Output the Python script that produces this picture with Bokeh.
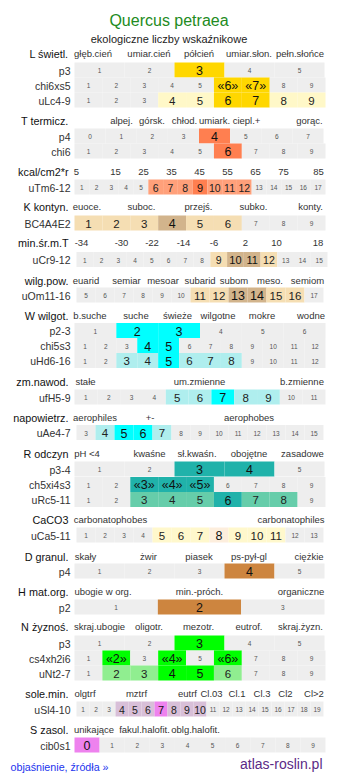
from bokeh.plotting import figure
from bokeh.models import Range1d, ColumnDataSource
from bokeh.core.properties import value
from bokeh.embed import file_html
from bokeh.resources import INLINE

# ---------------- data ----------------
title = "Quercus petraea"
subtitle = "ekologiczne liczby wskaźnikowe"
footer_link = "objaśnienie, źródła »"
footer_site = "atlas-roslin.pl"

group_names = ["L świetl.", "T termicz.", "kcal/cm2*r", "K kontyn.", "min.śr.m.T",
               "wilg.pow.", "W wilgot.", "zm.nawod.", "napowietrz.", "R odczyn",
               "CaCO3", "D granul.", "H mat.org.", "N żyznoś.", "sole.min.", "S zasol."]
group_words = [
    ["głęb.cień", "umiar.cień", "półcień", "umiar.słon.", "pełn.słońce"],
    ["alpej.", "górsk.", "chłod.", "umiark.", "ciepl.+", "gorąc."],
    ["5", "15", "25", "35", "45", "55", "65", "75", "85"],
    ["euoce.", "suboc.", "przejś.", "subko.", "konty."],
    ["-34", "-30", "-22", "-14", "-6", "2", "10", "18"],
    ["euarid", "semiar", "mesoar", "subarid", "subom", "meso.", "semiom"],
    ["b.suche", "suche", "świeże", "wilgotne", "mokre", "wodne"],
    ["stałe", "um.zmienne", "b.zmienne"],
    ["aerophiles", "+-", "aerophobes"],
    ["pH <4", "kwaśne", "sł.kwaśn.", "obojętne", "zasadowe"],
    ["carbonatophobes", "carbonatophiles"],
    ["skały", "żwir", "piasek", "ps-pył-gl", "ciężkie"],
    ["ubogie w org.", "min.-próch.", "organiczne"],
    ["skraj.ubogie", "oligotr.", "mezotr.", "eutrof.", "skraj.żyzn."],
    ["olgtrf", "mztrf", "eutrf", "Cl.03", "Cl.1", "Cl.3", "Cl2", "Cl>2"],
    ["unikające", "fakul.halofit.", "oblg.halofit."],
]

row_group = [0, 0, 0, 1, 1, 2, 3, 4, 5, 6, 6, 6, 7, 8, 9, 9, 9, 10, 11, 12, 13, 13, 13, 14, 15]
row_label = ["p3", "chi6xs5", "uLc4-9", "p4", "chi6", "uTm6-12", "BC4A4E2", "uCr9-12",
             "uOm11-16", "p2-3", "chi5s3", "uHd6-16", "ufH5-9", "uAe4-7", "p3-4",
             "ch5xi4s3", "uRc5-11", "uCa5-11", "p4", "p2", "p3", "cs4xh2i6", "uNt2-7",
             "uSl4-10", "cib0s1"]
row_first = [1, 1, 1, 0, 1, 1, 1, 1, 5, 1, 1, 1, 1, 3, 1, 1, 1, 1, 1, 1, 1, 1, 1, 1, 0]
row_last = [5, 9, 9, 7, 9, 17, 9, 15, 17, 6, 12, 12, 11, 15, 5, 9, 9, 13, 5, 3, 5, 9, 9, 19, 9]
row_strong = [[3], [6, 7], [6, 7], [4], [6], [9], [4], [10, 11], [13, 14], [2, 3], [4, 5],
              [5], [7], [5, 6], [3, 4], [3, 4, 5], [6], [8], [4], [2], [3], [2, 4, 6],
              [4, 5], [7], [0]]
row_light = [[], [], [4, 5, 8, 9], [], [], [6, 7, 8, 10, 11, 12], [1, 2, 3, 5, 6], [9, 12],
             [11, 12, 15, 16], [], [], [3, 4, 6, 7, 8], [5, 6, 8, 9], [4, 7], [], [],
             [3, 4, 5, 7, 8], [5, 6, 7, 9, 10, 11], [], [], [], [], [2, 3, 6],
             [4, 5, 6, 8, 9, 10], []]
row_marked = [False, True, False, False, False, False, False, False, False, False, False,
              False, False, False, False, True, False, False, False, False, False, True,
              False, False, False]

# ---------------- layout / style ----------------
W, H = 337, 781
group_y = [53, 120, 171, 206, 242, 280, 315, 381, 417, 453, 519, 556, 591, 626, 693, 729]
group_word_x = [
    [92.5, 148.5, 198.5, 248.5, 299.5],
    [121, 151.5, 184, 214, 246, 309],
    [76, 115, 143, 171, 199, 227, 255, 283, 318],
    [86.5, 141, 198, 253, 310],
    [81, 121, 151.5, 183, 213.5, 245, 276, 317.5],
    [85.5, 126, 162.5, 199.5, 233.5, 269.5, 307],
    [89.5, 135.5, 177, 217.5, 261.5, 310.5],
    [85, 199, 301.5],
    [94.5, 149.5, 248.5],
    [86.5, 149, 196.5, 248.5, 302],
    [110, 290.5],
    [85, 148, 198.5, 248.5, 308.5],
    [102.5, 199, 300.5],
    [99, 148.5, 198, 248.5, 300],
    [84.5, 136, 187, 211, 236.5, 261.5, 285, 313.5],
    [93.5, 144, 195],
]
row_y = [69.5, 84.5, 99.5, 135.5, 150.5, 186.5, 222.5, 259, 294.5, 330, 345, 360, 396.5,
         432, 468.5, 484, 499, 534.5, 570.5, 606.5, 642.5, 657.5, 672.5, 708.5, 744.5]
row_x0 = [74, 74, 74, 74, 74, 74, 74, 76, 76, 74, 74, 74, 74, 76, 74, 74, 74, 76, 74, 74,
          74, 74, 74, 76, 74]
row_x1 = [324, 325, 325, 323, 325, 325, 325, 327, 323, 325, 325, 325, 325, 323, 324, 325,
          325, 323, 324, 324, 324, 325, 325, 323, 325]
ROW_H = 15
GRAY = "#eeeeee"
group_strong = ["#ffd700", "#ff7f50", "#ff7f50", "#d2b48c", "#d2b48c", "#d2b48c",
                "#00ffff", "#00ffff", "#00ffff", "#20b2aa", "#fdeedd", "#cd853f",
                "#cd853f", "#00ff00", "#ee82ee", "#ee82ee"]
group_light = ["#fff8c8", "#ffa07a", "#ffa07a", "#f5deb3", "#f5deb3", "#f5deb3",
               "#afeeee", "#afeeee", "#afeeee", "#66cdaa", "#fff8cc", "#cd853f",
               "#cd853f", "#90ee90", "#d8bfd8", "#d8bfd8"]
FONT = "Liberation Sans"

p = figure(width=W, height=H, x_range=Range1d(0, W), y_range=Range1d(H, 0),
           output_backend="svg", toolbar_location=None, min_border=0,
           x_axis_location=None, y_axis_location=None,
           background_fill_color="white", border_fill_color="white")
p.outline_line_color = None
p.grid.visible = False

# cells
cl, cr, ct, cb, cc = [], [], [], [], []
tx, ty, tt, ts, tc = [], [], [], [], []
for r in range(len(row_label)):
    g = row_group[r]
    vals = list(range(row_first[r], row_last[r] + 1))
    n = len(vals)
    w = (row_x1[r] - row_x0[r]) / n
    narrow = w < 17
    for i, v in enumerate(vals):
        left = row_x0[r] + i * w
        if v in row_strong[r]:
            col, kind = group_strong[g], "s"
        elif v in row_light[r]:
            col, kind = group_light[g], "l"
        else:
            col, kind = GRAY, "n"
        cl.append(left); cr.append(left + w)
        ct.append(row_y[r] - ROW_H / 2); cb.append(row_y[r] + ROW_H / 2)
        cc.append(col)
        tx.append(left + w / 2); ty.append(row_y[r] + 0.5)
        if kind == "s":
            tt.append("«%d»" % v if row_marked[r] else str(v))
            ts.append("11px" if narrow else "12.5px"); tc.append("#111111")
        elif kind == "l":
            tt.append(str(v))
            ts.append("10.5px" if narrow else "11.5px"); tc.append("#222222")
        else:
            tt.append(str(v)); ts.append("6.5px"); tc.append("#555555")

p.quad(left="l", right="r", top="t", bottom="b", fill_color="c", line_color=None,
       source=ColumnDataSource(dict(l=cl, r=cr, t=ct, b=cb, c=cc)))
p.text(x="x", y="y", text="t", text_font_size="s", text_color="c",
       text_align="center", text_baseline="middle", text_font=value(FONT),
       source=ColumnDataSource(dict(x=tx, y=ty, t=tt, s=ts, c=tc)))

# row labels
p.text(x=[70] * len(row_label), y=[y + 0.5 for y in row_y], text=row_label,
       text_font_size="10.5px", text_color="#333333", text_align="right",
       text_baseline="middle", text_font=value(FONT))

# group names and header words
p.text(x=[68] * len(group_names), y=group_y, text=group_names,
       text_font_size="10.8px", text_color="#111111", text_align="right",
       text_baseline="middle", text_font=value(FONT))
hx, hy, ht = [], [], []
for g, words in enumerate(group_words):
    for w_, x_ in zip(words, group_word_x[g]):
        hx.append(x_); hy.append(group_y[g]); ht.append(w_)
p.text(x=hx, y=hy, text=ht, text_font_size="9.5px", text_color="#333333",
       text_align="center", text_baseline="middle", text_font=value(FONT))

# title
p.text(x=[168.5], y=[20], text=[title], text_font_size="16px", text_color="#228b22",
       text_align="center", text_baseline="middle", text_font=value(FONT))
p.text(x=[168.5], y=[38], text=[subtitle], text_font_size="11px", text_color="#222222",
       text_align="center", text_baseline="middle", text_font=value(FONT))

# footer
p.text(x=[10], y=[766], text=[footer_link], text_font_size="10.7px", text_color="#2233ee",
       text_align="left", text_baseline="middle", text_font=value(FONT))
p.text(x=[322], y=[763], text=[footer_site], text_font_size="14px", text_color="#5b2a86",
       text_align="right", text_baseline="middle", text_font=value(FONT))

open("out.html", "w").write(file_html(p, INLINE))
